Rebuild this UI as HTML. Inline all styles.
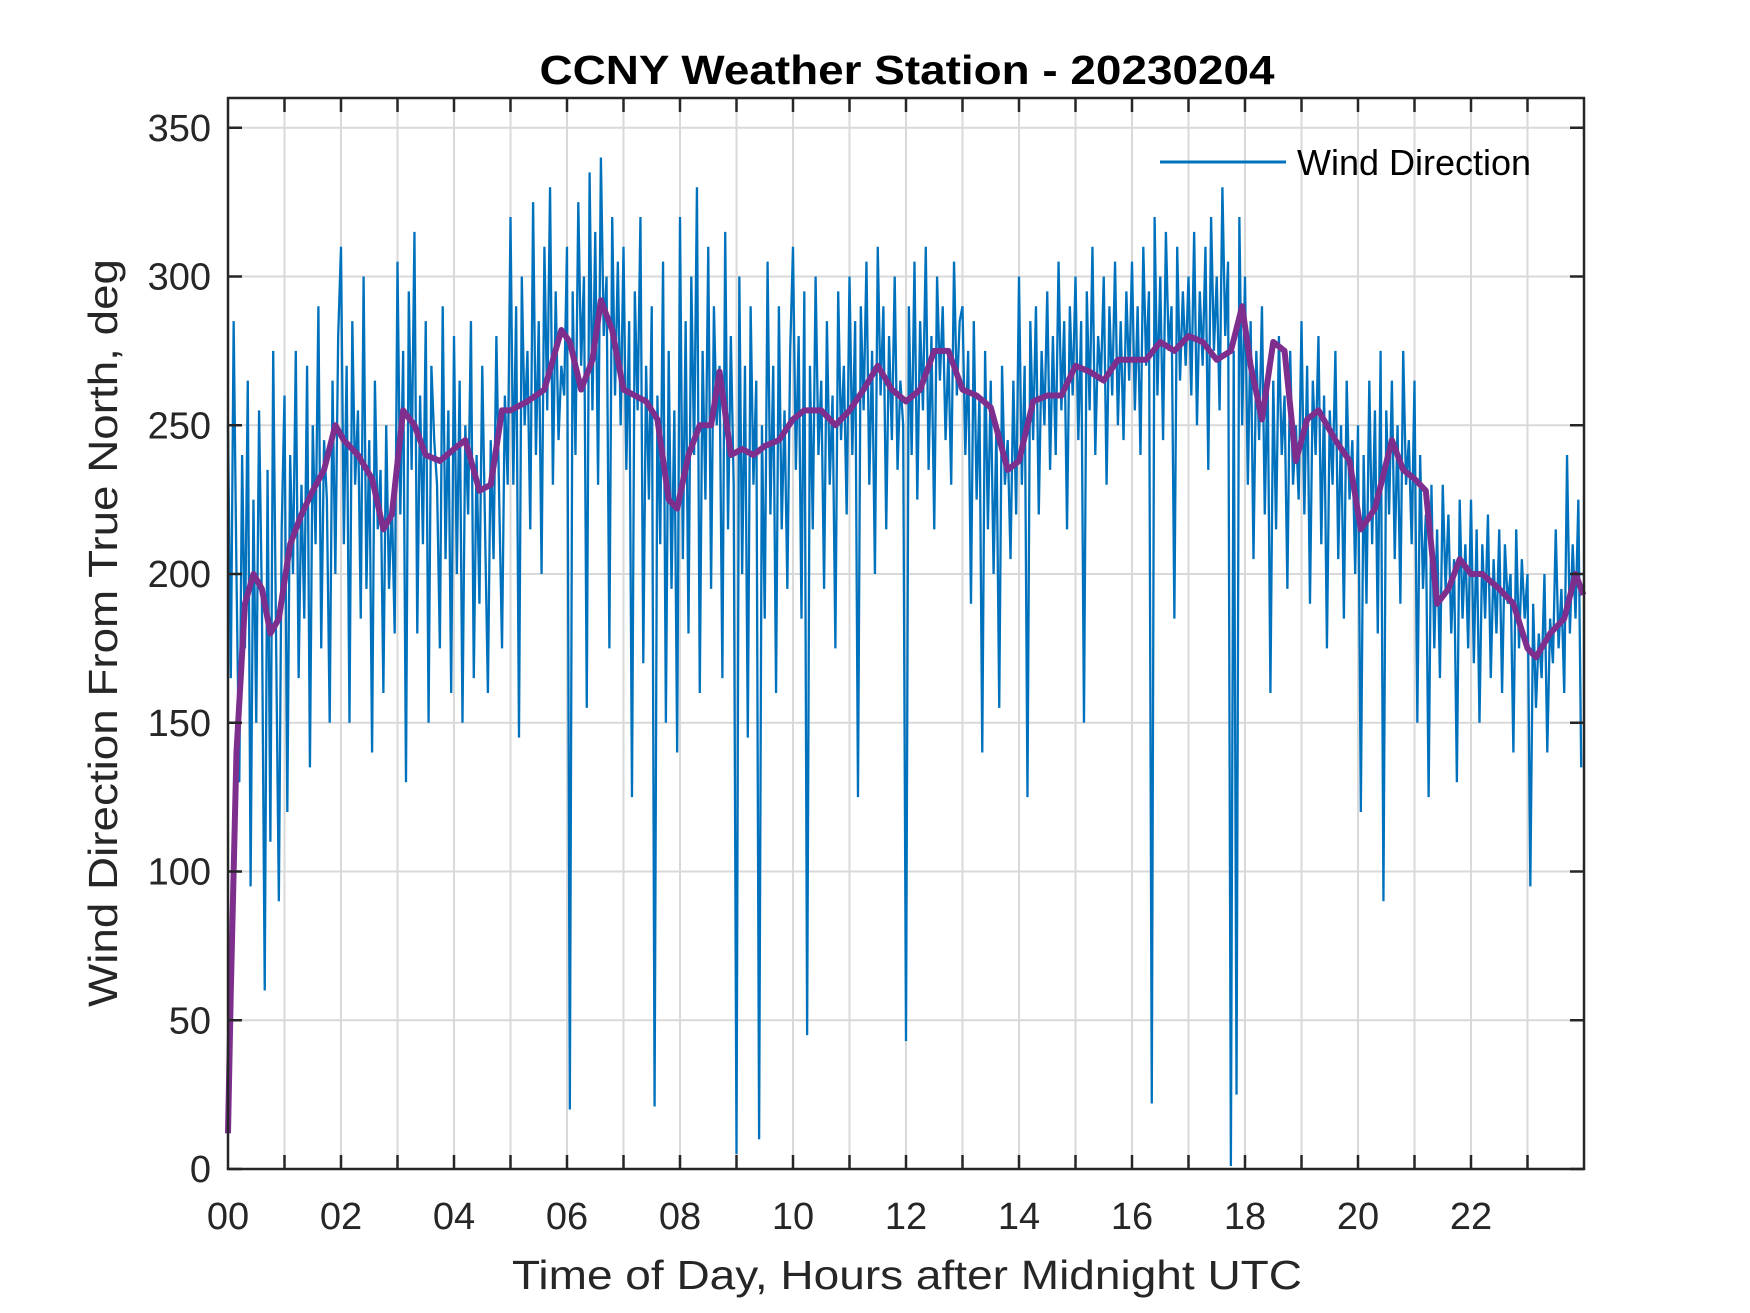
<!DOCTYPE html>
<html><head><meta charset="utf-8"><style>
html,body{margin:0;padding:0;background:#fff;}
svg{display:block;font-family:"Liberation Sans",Arial,sans-serif;}
</style></head><body>
<svg id="chart" width="1750" height="1313" viewBox="0 0 1750 1313" xmlns="http://www.w3.org/2000/svg">
<rect x="0" y="0" width="1750" height="1313" fill="#fff"/>
<g id="grid"></g>
<g id="plot"></g>
<g id="axes"></g>
<text x="907" y="84" text-anchor="middle" font-weight="bold" font-size="41" textLength="735" lengthAdjust="spacingAndGlyphs" fill="#000">CCNY Weather Station - 20230204</text>
<text x="907" y="1289" text-anchor="middle" font-size="41" textLength="790" lengthAdjust="spacingAndGlyphs" fill="#262626">Time of Day, Hours after Midnight UTC</text>
<text transform="translate(117,633) rotate(-90)" text-anchor="middle" font-size="41" textLength="748" lengthAdjust="spacingAndGlyphs" fill="#262626">Wind Direction From True North, deg</text>
<g>
<line x1="1160" y1="162" x2="1286" y2="162" stroke="#0072BD" stroke-width="3"/>
<text x="1297" y="175" font-size="36" fill="#000">Wind Direction</text>
</g>
</svg>
<script>
const xTicks = [0,2,4,6,8,10,12,14,16,18,20,22];
const xTickLabels = ["00","02","04","06","08","10","12","14","16","18","20","22"];
const yTicks = [0,50,100,150,200,250,300,350];
const yTickLabels = ["0","50","100","150","200","250","300","350"];
const rawStepHours = 0.05;
const rawValues = [
250,165,285,200,130,240,175,265,95,225,150,255,190,60,235,110,275,180,90,215,
260,120,240,200,275,165,230,185,270,135,250,210,290,175,245,225,150,265,200,280,
310,210,270,150,285,230,255,185,300,195,245,140,265,215,235,160,250,195,225,180,
305,220,275,130,295,235,315,180,260,210,285,150,270,245,230,175,290,205,255,160,
280,200,265,150,250,220,285,165,240,190,270,215,160,245,205,280,225,175,260,230,
320,230,290,145,300,250,275,215,325,240,285,200,310,255,330,230,295,245,270,260,
310,20,295,240,325,270,300,155,335,255,315,230,340,280,300,175,320,260,305,250,
310,235,285,125,295,255,320,170,270,225,290,21,260,210,305,150,275,195,255,140,
320,205,285,180,300,240,330,160,275,225,310,195,290,250,270,165,315,215,280,230,
5,300,200,270,145,290,230,265,10,250,185,305,220,270,160,290,215,255,195,275,
310,235,280,185,295,45,270,215,300,240,265,195,285,230,260,175,295,245,270,220,
300,240,285,125,290,255,305,230,275,200,310,260,290,215,280,245,300,235,265,250,
43,290,240,305,225,285,255,310,235,280,215,300,265,290,245,275,230,305,260,285,
290,240,275,190,285,225,260,140,275,215,265,200,250,155,270,230,245,205,265,220,
300,230,270,125,285,245,290,220,275,250,295,235,280,240,305,255,285,215,290,260,
300,245,285,150,295,255,310,240,280,265,300,230,290,260,305,250,285,245,295,265,
305,255,290,240,310,270,295,22,320,260,300,245,315,275,290,185,310,265,295,270,
300,260,315,250,295,270,310,235,320,275,300,255,330,280,305,1,275,25,320,250,
300,230,285,205,275,245,290,220,270,160,265,215,280,240,260,195,275,230,250,225,
285,220,270,190,265,240,280,210,260,175,255,230,275,205,250,185,265,225,245,200,
250,120,240,190,265,210,255,180,275,90,255,220,265,205,250,190,275,230,245,210,
265,150,240,195,220,125,230,175,215,165,230,195,220,180,205,130,225,185,210,175,
225,170,215,150,210,185,220,165,205,180,215,160,210,190,200,140,215,175,205,185,
200,95,190,155,180,165,200,140,185,170,215,175,195,160,240,180,210,185,225,135
];
const smoothTimes = [0,0.05,0.15,0.3,0.45,0.6,0.75,0.9,1.1,1.3,1.5,1.7,1.9,2.05,2.3,2.55,2.75,2.9,3.1,3.3,3.5,3.75,4.0,4.2,4.45,4.65,4.85,5.0,5.3,5.6,5.9,6.05,6.25,6.45,6.6,6.8,7.0,7.2,7.4,7.6,7.8,7.95,8.15,8.35,8.55,8.7,8.9,9.1,9.3,9.5,9.75,10.0,10.2,10.5,10.75,11.0,11.25,11.5,11.75,12.0,12.25,12.5,12.75,13.0,13.25,13.5,13.8,14.0,14.25,14.5,14.75,15.0,15.25,15.5,15.75,16.0,16.25,16.5,16.75,17.0,17.25,17.5,17.75,17.95,18.1,18.3,18.5,18.7,18.9,19.1,19.3,19.6,19.85,20.05,20.3,20.6,20.8,21.0,21.2,21.4,21.6,21.8,22.0,22.2,22.5,22.75,23.0,23.15,23.4,23.65,23.85,23.99];
const smoothValues = [12,60,140,190,200,195,180,185,210,220,228,235,250,245,240,232,215,220,255,250,240,238,242,245,228,230,255,255,258,262,282,278,262,272,292,282,262,260,258,252,225,222,240,250,250,268,240,242,240,243,245,252,255,255,250,255,262,270,262,258,262,275,275,262,260,256,235,238,258,260,260,270,268,265,272,272,272,278,275,280,278,272,275,290,270,252,278,275,238,252,255,245,238,215,222,245,235,232,228,190,195,205,200,200,195,190,175,172,180,185,200,193];

const NS = "http://www.w3.org/2000/svg";
const L = 228, R = 1584, T = 98, B = 1169;
const xMin = 0, xMax = 24, yMin = 0, yMax = 360;
function xs(v){ return L + (v - xMin) / (xMax - xMin) * (R - L); }
function ys(v){ return B - (v - yMin) / (yMax - yMin) * (B - T); }
function mk(tag, attrs, parent){ const e = document.createElementNS(NS, tag); for (const k in attrs) e.setAttribute(k, attrs[k]); parent.appendChild(e); return e; }

const grid = document.getElementById('grid');
const plot = document.getElementById('plot');
const axes = document.getElementById('axes');

for (let h = 1; h < 24; h++) {
  const gl = mk('line', {x1: xs(h), x2: xs(h), y1: T, y2: B, stroke: '#d9d9d9', 'stroke-width': 2}, grid);
  
  
}
yTicks.forEach(v => {
  if (v === 0) return;
  const gl = mk('line', {x1: L, x2: R, y1: ys(v), y2: ys(v), stroke: '#d9d9d9', 'stroke-width': 2}, grid);
  
  
});

let d = '';
rawValues.forEach((v, i) => { d += (i ? 'L' : 'M') + xs(i * rawStepHours).toFixed(2) + ' ' + ys(v).toFixed(2); });
const raw = mk('path', {d: d, fill: 'none', stroke: '#0072BD', 'stroke-width': 2.3, 'stroke-linejoin': 'miter'}, plot);



let d2 = '';
const n = Math.min(smoothTimes.length, smoothValues.length);
for (let i = 0; i < n; i++) d2 += (i ? 'L' : 'M') + xs(smoothTimes[i]).toFixed(2) + ' ' + ys(smoothValues[i]).toFixed(2);
const sm = mk('path', {d: d2, fill: 'none', stroke: '#7E2F8E', 'stroke-width': 6, 'stroke-linejoin': 'round'}, plot);



const box = mk('rect', {x: L, y: T, width: R - L, height: B - T, fill: 'none', stroke: '#262626', 'stroke-width': 2.5}, axes);



for (let h = 1; h < 24; h++) {
  const t1 = mk('line', {x1: xs(h), x2: xs(h), y1: B, y2: B - 14, stroke: '#262626', 'stroke-width': 2.5}, axes);
  
  
  const t2 = mk('line', {x1: xs(h), x2: xs(h), y1: T, y2: T + 14, stroke: '#262626', 'stroke-width': 2.5}, axes);
  
  
}
xTicks.forEach((v, i) => {
  const t = mk('text', {x: xs(v), y: 1229, 'text-anchor': 'middle', 'font-size': 38, fill: '#262626'}, axes);
  t.textContent = xTickLabels[i];
  
  
});
yTicks.forEach((v, i) => {
  const a = mk('line', {x1: L, x2: L + 14, y1: ys(v), y2: ys(v), stroke: '#262626', 'stroke-width': 2.5}, axes);
  
  
  const b = mk('line', {x1: R, x2: R - 14, y1: ys(v), y2: ys(v), stroke: '#262626', 'stroke-width': 2.5}, axes);
  
  
  const t = mk('text', {x: 211, y: ys(v) + 13, 'text-anchor': 'end', 'font-size': 38, fill: '#262626'}, axes);
  t.textContent = yTickLabels[i];
  
  
});
</script>
</body></html>
